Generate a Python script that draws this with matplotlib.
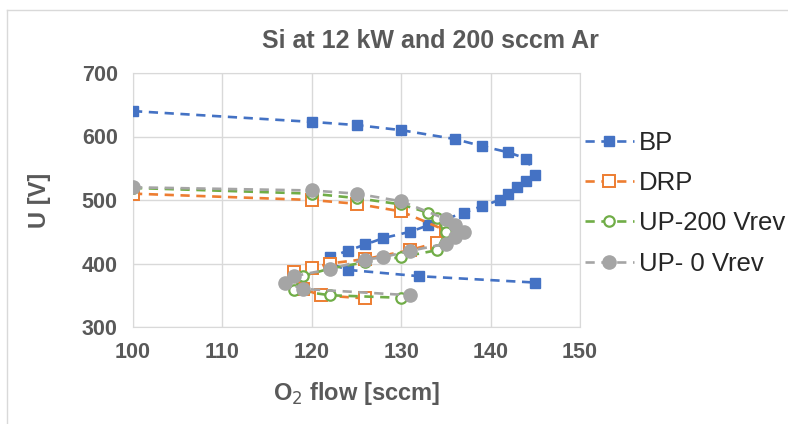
import matplotlib.pyplot as plt
from matplotlib.lines import Line2D

plt.rcParams['font.family'] = ['Liberation Sans', 'DejaVu Sans']

# BP
bp_x = [100, 120, 125, 130, 136, 139, 142, 144, 145, 144, 143, 142, 141,
        139, 137, 133, 131, 128, 126, 124, 122, 122, 124, 132, 145]
bp_y = [640, 623, 618, 610, 596, 585, 575, 565, 540, 530, 520, 510, 500,
        490, 480, 460, 450, 440, 430, 420, 410, 400, 390, 380, 370]

# DRP
drp_x = [100, 120, 125, 130, 135, 135, 135, 134, 131, 126, 122, 120, 118, 119, 121, 126]
drp_y = [510, 500, 494, 482, 452, 446, 440, 433, 421, 407, 400, 393, 386, 360, 350, 345]

# UP-200 Vrev
up200_x = [100, 120, 125, 130, 133, 134, 135, 135, 134, 130, 126, 122, 119, 118, 122, 130]
up200_y = [519, 510, 503, 493, 480, 472, 460, 450, 421, 410, 402, 392, 380, 358, 350, 346]

# UP- 0 Vrev
up0_x = [100, 120, 125, 130, 135, 136, 137, 136, 135, 131, 128, 126, 122, 118, 117, 119, 131]
up0_y = [520, 515, 510, 498, 470, 460, 450, 441, 431, 420, 410, 406, 391, 380, 370, 360, 350]

txt = '#595959'
grid = '#D9D9D9'
dash = (0, (3.5, 2.5))

fig = plt.figure(figsize=(7.88, 4.24), dpi=100)
ax = fig.add_axes([133/788, 1-327/424, (580-133)/788, (327-73)/424])

ax.plot(bp_x, bp_y, color='#4472C4', ls=dash, lw=1.9, marker='s', ms=7,
        label='BP', zorder=3)
ax.plot(drp_x, drp_y, color='#ED7D31', ls=dash, lw=1.9, marker='s', ms=9,
        mfc='white', mew=1.4, label='DRP', zorder=4)
ax.plot(up200_x, up200_y, color='#70AD47', ls=dash, lw=1.9, marker='o', ms=7.5,
        mfc='white', mew=1.6, label='UP-200 Vrev', zorder=5)
ax.plot(up0_x, up0_y, color='#A5A5A5', ls=dash, lw=1.9, marker='o', ms=9.5,
        label='UP- 0 Vrev', zorder=6)

ax.set_xlim(100, 150)
ax.set_ylim(300, 700)
ax.set_xticks(range(100, 151, 10))
ax.set_yticks(range(300, 701, 100))
ax.grid(True, color=grid, lw=1)
ax.set_axisbelow(True)
for s in ax.spines.values():
    s.set_color(grid)
ax.tick_params(length=0, labelsize=15.5, labelcolor=txt, pad=11)
for lab in ax.get_xticklabels() + ax.get_yticklabels():
    lab.set_fontweight('bold')

ax.set_xlabel('O$_2$ flow [sccm]', fontsize=17, fontweight='bold', color=txt, labelpad=12)
ax.set_ylabel('U [V]', fontsize=17, fontweight='bold', color=txt, labelpad=22)

fig.text(430/788, 1-41/424, 'Si at 12 kW and 200 sccm Ar', ha='center', va='center',
         fontsize=18, fontweight='bold', color=txt)

ax.legend(loc='upper left', bbox_to_anchor=(585/788, 1-131/424),
          bbox_transform=fig.transFigure, frameon=False, fontsize=18.5,
          handlelength=1.9, handletextpad=0.2, labelspacing=0.63, borderpad=0,
          borderaxespad=0, labelcolor='#262626')

# chart area border
fig.add_artist(Line2D([7/788, 7/788], [0, 1-10/424], transform=fig.transFigure,
                      color=grid, lw=1))
fig.add_artist(Line2D([7/788, 1], [1-10/424, 1-10/424], transform=fig.transFigure,
                      color=grid, lw=1))

fig.savefig('out.png', dpi=100)
